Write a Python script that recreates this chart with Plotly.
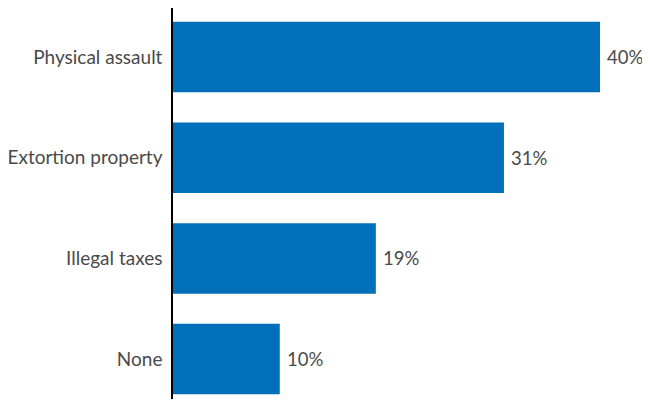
import plotly.graph_objects as go

categories = ["Physical assault", "Extortion property", "Illegal taxes", "None"]
values = [40, 31, 19, 10]
labels = [f"{v}%" for v in values]

FONT = dict(family="Lato", size=19, color="#4a4a4a")
VFONT = dict(family="Lato", size=18.5, color="#4a4a4a")

fig = go.Figure(go.Bar(
    x=values, y=categories, orientation="h",
    marker=dict(color="#0070BA", line=dict(width=0)),
    width=0.7, hoverinfo="skip",
))

for c, v, t in zip(categories, values, labels):
    fig.add_annotation(x=v, y=c, text=t, showarrow=False, xanchor="left",
                       xshift=5, font=VFONT)

fig.update_layout(
    width=642, height=391,
    margin=dict(l=165, r=0, t=0, b=0),
    paper_bgcolor="white", plot_bgcolor="white",
    showlegend=False,
    font=FONT,
    xaxis=dict(range=[0, 44.68], visible=False, showgrid=False, zeroline=False),
    yaxis=dict(
        type="category", categoryorder="array", categoryarray=categories,
        range=[3.396, -0.4866],
        showline=True, linecolor="#000000", linewidth=1.5,
        showgrid=False, zeroline=False, automargin=False,
        ticks="outside", ticklen=5, tickcolor="rgba(0,0,0,0)",
        tickfont=FONT,
    ),
)

fig.write_html("out.html")
